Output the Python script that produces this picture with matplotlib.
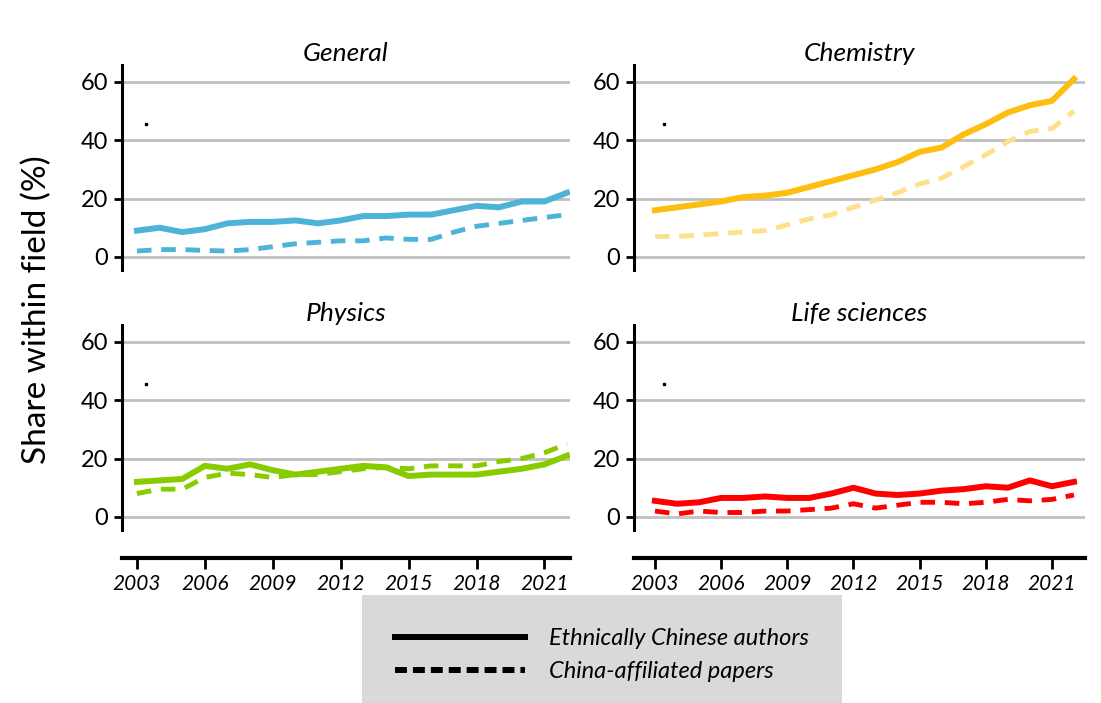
import matplotlib
matplotlib.use("Agg")
import matplotlib.pyplot as plt
from matplotlib.lines import Line2D

years = list(range(2003, 2023))
general_eth = [9,10,8.5,9.5,11.5,12,12,12.5,11.5,12.5,14,14,14.5,14.5,16,17.5,17,19,19,22]
general_cn = [2,2.5,2.5,2.2,2,2.5,3.5,4.5,5,5.5,5.5,6.5,6,6,8.5,10.5,11.5,12.5,13.5,14.5]
chem_eth = [16,17,18,19,20.5,21,22,24,26,28,30,32.5,36,37.5,42,45.5,49.5,52,53.5,61]
chem_cn = [7,7,7.5,8,8.5,9,11,13,14.5,17,19.5,22,25,27,31,35,39.5,43,44,50]
phys_eth = [12,12.5,13,17.5,16.5,18,16,14.5,15.5,16.5,17.5,17,14,14.5,14.5,14.5,15.5,16.5,18,21]
phys_cn = [8,9.5,9.5,13.5,15,14.5,13.5,14.5,14.5,15.5,16.5,17,16.5,17.5,17.5,17.5,19,20,22,25]
life_eth = [5.5,4.5,5,6.5,6.5,7,6.5,6.5,8,10,8,7.5,8,9,9.5,10.5,10,12.5,10.5,12]
life_cn = [2,1,2,1.5,1.5,2,2,2.5,3,4.5,3,4,5,5,4.5,5,6,5.5,6,7.5]
titles = ["General", "Chemistry", "Physics", "Life sciences"]
xticks = [2003, 2006, 2009, 2012, 2015, 2018, 2021]
yticks = [0, 20, 40, 60]

plt.rcParams['font.family'] = ['Lato', 'DejaVu Sans']
fig = plt.figure(figsize=(11.01, 7.03), dpi=100)
W, H = 1101, 703
def ax_at(x0, y0, x1, y1):
    return fig.add_axes([x0/W, 1-y1/H, (x1-x0)/W, (y1-y0)/H])

panels = [
    (ax_at(122, 65, 570, 270), general_eth, general_cn, '#4db3d9', '#4db3d9', (2002.34, 2022.13), False),
    (ax_at(634, 65, 1085, 270), chem_eth, chem_cn, '#fdbe10', '#fde08c', (2002.05, 2022.5), False),
    (ax_at(122, 325, 570, 530), phys_eth, phys_cn, '#88cc00', '#88cc00', (2002.34, 2022.13), True),
    (ax_at(634, 325, 1085, 530), life_eth, life_cn, '#ff0000', '#ff0000', (2002.05, 2022.5), True),
]
for (ax, e, c, col, col2, xl, bottom), t in zip(panels, titles):
    for y in yticks:
        ax.axhline(y, color='#c0c0c0', lw=2, zorder=0)
    ax.plot(years, c, color=col2, lw=3.5, ls=(0, (3, 2)), zorder=2)
    ax.plot(years, e, color=col, lw=4.3, zorder=3)
    ax.plot([2003.4], [45.5], 's', color='black', ms=1.8)
    ax.set_xlim(*xl)
    ax.set_ylim(-4.5, 65.8)
    ax.set_yticks(yticks)
    ax.tick_params(axis='y', length=6, width=2, labelsize=17, pad=4)
    for s in ['top', 'right']:
        ax.spines[s].set_visible(False)
    ax.spines['left'].set_linewidth(2.2)
    ax.set_title(t, fontsize=19, style='italic', pad=3)
    if bottom:
        ax.spines['bottom'].set_position(('outward', 20))
        ax.spines['bottom'].set_linewidth(3)
        ax.set_xticks(xticks)
        ax.set_xticklabels([str(x) for x in xticks], style='italic')
        ax.tick_params(axis='x', length=8, width=2, labelsize=15)
    else:
        ax.spines['bottom'].set_visible(False)
        ax.set_xticks([])
    ax.set_facecolor('none')

fig.text(37/W, 0.56, "Share within field (%)", rotation=90, fontsize=24, va='center', ha='center')
handles = [Line2D([], [], color='black', lw=4.3), Line2D([], [], color='black', lw=4.3, ls=(0, (2, 1)))]
leg = fig.legend(handles, ["Ethnically Chinese authors", "China-affiliated papers"],
                 loc='center', bbox_to_anchor=(602/W, 1-655/H), frameon=True, fancybox=False,
                 facecolor='#d9d9d9', edgecolor='none', framealpha=1, handlelength=5.5,
                 prop={'size': 17, 'style': 'italic'}, borderpad=0.8, labelspacing=0.5,
                 borderaxespad=0, handletextpad=1.0)
leg.get_frame().set_boxstyle('square', pad=0.6)
fig.savefig("out.png", dpi=100)
